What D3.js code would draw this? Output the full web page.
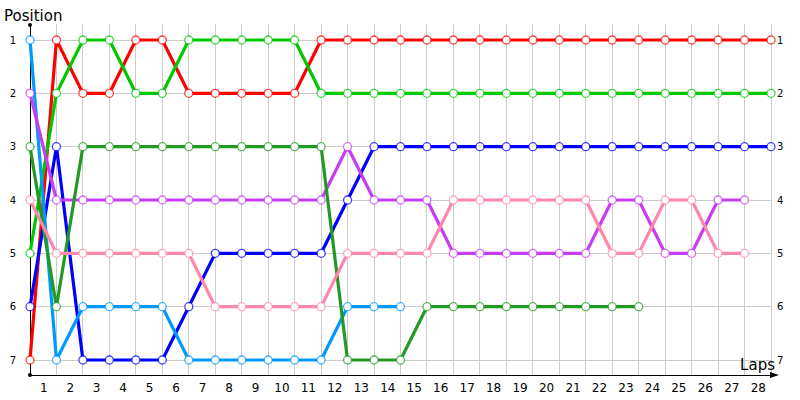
<!DOCTYPE html>
<html>
<head>
<meta charset="utf-8">
<script src="https://cdn.jsdelivr.net/npm/d3@7"></script>
<style>
  html, body { margin: 0; padding: 0; background: #fff; }
  svg { display: block; font-family: Tahoma, "DejaVu Sans", sans-serif; }
</style>
</head>
<body>
<svg id="chart" width="800" height="400"></svg>
<script>
// ---- data ----
const laps = d3.range(0, 29);                 // lap index 0..28 (grid positions)
const lapLabels = d3.range(1, 29);            // tick labels 1..28
const positions = [1, 2, 3, 4, 5, 6, 7];

const seriesNames = ["red", "green", "blue", "lightblue", "purple", "darkgreen", "pink"];
const seriesColors = ["#ff0000", "#00c800", "#0000ff", "#0099ff", "#c83cf5", "#229922", "#ff88aa"];

const redPos       = [7,1,2,2,1,1,2,2,2,2,2,1,1,1,1,1,1,1,1,1,1,1,1,1,1,1,1,1,1];
const greenPos     = [5,2,1,1,2,2,1,1,1,1,1,2,2,2,2,2,2,2,2,2,2,2,2,2,2,2,2,2,2];
const bluePos      = [6,3,7,7,7,7,6,5,5,5,5,5,4,3,3,3,3,3,3,3,3,3,3,3,3,3,3,3,3];
const lightbluePos = [1,7,6,6,6,6,7,7,7,7,7,7,6,6,6];
const purplePos    = [2,4,4,4,4,4,4,4,4,4,4,4,3,4,4,4,5,5,5,5,5,5,4,4,5,5,4,4];
const darkgreenPos = [3,6,3,3,3,3,3,3,3,3,3,3,7,7,7,6,6,6,6,6,6,6,6,6];
const pinkPos      = [4,5,5,5,5,5,5,6,6,6,6,6,5,5,5,5,4,4,4,4,4,4,5,5,4,4,5,5];

const seriesValues = [redPos, greenPos, bluePos, lightbluePos, purplePos, darkgreenPos, pinkPos];

// ---- layout ----
const svg = d3.select("#chart");
const x = d3.scaleLinear().domain([0, 28]).range([30, 771]);
const y = d3.scaleLinear().domain([1, 7]).range([40, 360]);
const axisY = 375, topY = 24;

// grid
const grid = svg.append("g");
grid.selectAll("line.v").data(laps.slice(1)).join("line")
  .attr("x1", d => x(d)).attr("x2", d => x(d))
  .attr("y1", topY).attr("y2", axisY)
  .attr("stroke", "#cccccc").attr("stroke-width", 1).attr("shape-rendering", "crispEdges");
grid.selectAll("line.h").data(positions).join("line")
  .attr("x1", x(0)).attr("x2", x(28))
  .attr("y1", d => y(d)).attr("y2", d => y(d))
  .attr("stroke", "#cccccc").attr("stroke-width", 1).attr("shape-rendering", "crispEdges");

// axes lines
svg.append("line").attr("x1", x(0)).attr("x2", x(0)).attr("y1", 25).attr("y2", axisY)
  .attr("stroke", "#000").attr("stroke-width", 1).attr("shape-rendering", "crispEdges");
svg.append("line").attr("x1", x(0)).attr("x2", 776).attr("y1", axisY).attr("y2", axisY)
  .attr("stroke", "#000").attr("stroke-width", 1).attr("shape-rendering", "crispEdges");
svg.append("path").attr("d", `M770,${axisY-3} L779,${axisY} L770,${axisY+3} Z`).attr("fill", "#000");
svg.append("circle").attr("cx", x(0)).attr("cy", 25).attr("r", 2).attr("fill", "#000");
svg.append("circle").attr("cx", x(0)).attr("cy", axisY).attr("r", 2).attr("fill", "#000");

// tick labels via d3 axes
const xAxis = d3.axisBottom(x)
  .tickValues(lapLabels.map(l => l - 0.5))
  .tickFormat(d => String(Math.round(d + 0.5)))
  .tickSize(0).tickPadding(8);
const gx = svg.append("g").attr("transform", `translate(0,${axisY})`).call(xAxis);
gx.select(".domain").remove();
gx.selectAll("text").attr("font-size", 12).attr("font-family", "Tahoma, 'DejaVu Sans', sans-serif").attr("fill", "#000");

const yAxisL = d3.axisLeft(y).tickValues(positions).tickFormat(d3.format("d")).tickSize(0).tickPadding(14);
const gyl = svg.append("g").attr("transform", `translate(${x(0)},0)`).call(yAxisL);
gyl.select(".domain").remove();
gyl.selectAll("text").attr("font-size", 10).attr("font-family", "Tahoma, 'DejaVu Sans', sans-serif").attr("fill", "#000");

const yAxisR = d3.axisRight(y).tickValues(positions).tickFormat(d3.format("d")).tickSize(0).tickPadding(6);
const gyr = svg.append("g").attr("transform", `translate(${x(28)},0)`).call(yAxisR);
gyr.select(".domain").remove();
gyr.selectAll("text").attr("font-size", 10).attr("font-family", "Tahoma, 'DejaVu Sans', sans-serif").attr("fill", "#000");

// titles
svg.append("text").attr("x", 4).attr("y", 21).attr("font-size", 15)
  .attr("font-family", "Tahoma, 'DejaVu Sans', sans-serif").text("Position");
svg.append("text").attr("x", 775).attr("y", 370).attr("text-anchor", "end").attr("font-size", 15)
  .attr("font-family", "Tahoma, 'DejaVu Sans', sans-serif").text("Laps");

// series
const line = d3.line().x((d, i) => x(i)).y(d => y(d));
seriesValues.forEach((vals, si) => {
  const g = svg.append("g");
  g.append("path").datum(vals).attr("d", line)
    .attr("fill", "none").attr("stroke", seriesColors[si]).attr("stroke-width", 3.2)
    .attr("stroke-linejoin", "round");
});
seriesValues.forEach((vals, si) => {
  svg.append("g").selectAll("circle").data(vals).join("circle")
    .attr("cx", (d, i) => x(i)).attr("cy", d => y(d)).attr("r", 4)
    .attr("fill", "#fff").attr("stroke", seriesColors[si]).attr("stroke-width", 1.3)
    .attr("stroke-opacity", 0.75);
});
</script>
</body>
</html>
